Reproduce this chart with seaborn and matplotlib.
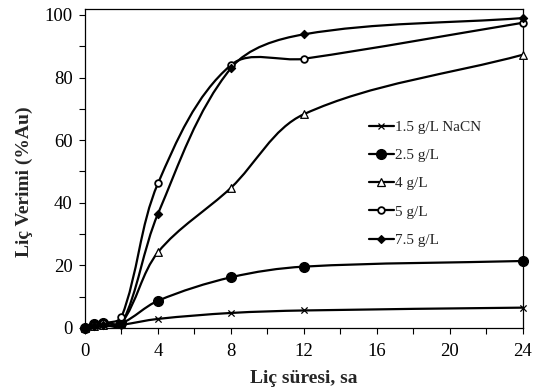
import numpy as np
import matplotlib
matplotlib.use("Agg")
import matplotlib.pyplot as plt
from matplotlib.path import Path
from matplotlib.patches import PathPatch
from matplotlib.lines import Line2D
import seaborn as sns

# ─── Data ────────────────────────────────────────────────────────
hours = [0, 0.5, 1, 2, 4, 8, 12, 24]
nacn_15 = [0, 0.3, 0.5, 1.0, 2.9, 4.8, 5.6, 6.5]
nacn_25 = [0, 1.3, 1.5, 1.5, 8.7, 16.2, 19.6, 21.4]
nacn_4 = [0, 0.5, 0.8, 1.5, 24.2, 44.8, 68.3, 87.3]
nacn_5 = [0, 1.0, 1.5, 3.5, 46.2, 84.0, 86.0, 97.5]
nacn_75 = [0, 0.5, 1.0, 1.0, 36.5, 83.0, 93.8, 99.0]
labels = ["1.5 g/L NaCN", "2.5 g/L", "4 g/L", "5 g/L", "7.5 g/L"]

# ─── Style ───────────────────────────────────────────────────────
sns.set_theme(style="ticks")
plt.rcParams["font.family"] = ["Liberation Serif", "DejaVu Serif"]

fig = plt.figure(figsize=(5.39, 3.90), dpi=100)
ax = fig.add_axes([0.1577, 0.159, 0.9703 - 0.1577, 0.977 - 0.159])
ax.set_xlim(0, 24)
ax.set_ylim(0, 101.9)

styles = [
    dict(marker="x", ms=4.5, mfc="white", mew=0.9),
    dict(marker="o", ms=7, mfc="black", mew=1),
    dict(marker="^", ms=5.5, mfc="white", mew=0.9),
    dict(marker="o", ms=4.8, mfc="white", mew=1.3),
    dict(marker="D", ms=4.2, mfc="black", mew=0.8),
]
series = [nacn_15, nacn_25, nacn_4, nacn_5, nacn_75]


def smooth_patch(x, y):
    # Excel-like smoothed line, bezier built in screen space
    pts = ax.transData.transform(np.column_stack([x, y]))
    n = len(pts)
    tang = []
    for i in range(n):
        d = pts[min(i + 1, n - 1)] - pts[max(i - 1, 0)]
        tang.append(d / np.hypot(*d))
    verts = [pts[0]]
    codes = [Path.MOVETO]
    for i in range(n - 1):
        seg = np.hypot(*(pts[i + 1] - pts[i])) / 3
        verts += [pts[i] + tang[i] * seg, pts[i + 1] - tang[i + 1] * seg, pts[i + 1]]
        codes += [Path.CURVE4] * 3
    verts = ax.transData.inverted().transform(np.array(verts))
    return PathPatch(Path(verts, codes), fill=False, lw=1.6, ec="black",
                     clip_on=False, zorder=2)


handles = []
for vals, st, lab in zip(series, styles, labels):
    ax.add_patch(smooth_patch(hours, vals))
    sns.scatterplot(x=hours, y=vals, ax=ax, marker=st["marker"],
                    s=st["ms"] ** 2, color=st["mfc"] if st["marker"] != "x" else "black",
                    edgecolor="black", linewidth=st["mew"], clip_on=False,
                    zorder=3, legend=False)
    handles.append(Line2D([], [], color="black", lw=1.6, marker=st["marker"],
                          ms=st["ms"], mfc=st["mfc"], mec="black", mew=st["mew"],
                          label=lab))

ax.legend(handles=handles, loc="upper left", bbox_to_anchor=(0.635, 0.67),
          frameon=False, fontsize=11, handlelength=1.6, handletextpad=0.1,
          labelspacing=0.95, borderaxespad=0)

ax.set_xticks(range(0, 25, 4))
ax.set_xticks(range(0, 25, 2), minor=True)
ax.set_yticks(range(0, 101, 20))
ax.set_yticks(range(0, 101, 10), minor=True)
ax.tick_params(axis="both", which="both", direction="out", length=4, width=0.8,
               colors="black", labelsize=13.5)
ax.tick_params(axis="x", which="major", pad=7)
ax.tick_params(axis="y", which="major", pad=5)
for s in ax.spines.values():
    s.set_visible(True)
    s.set_color("black")
    s.set_linewidth(0.9)

ax.set_xlabel("Liç süresi, sa", fontsize=14, fontweight="bold", va="center")
ax.set_ylabel("Liç Verimi (%Au)", fontsize=14, fontweight="bold", va="center")
ax.xaxis.set_label_coords(0.5, -0.157)
ax.yaxis.set_label_coords(-0.139, 0.458)

fig.savefig("out.png", dpi=100)
